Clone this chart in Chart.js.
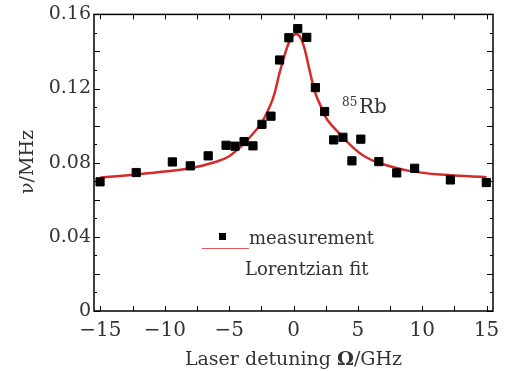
<!DOCTYPE html>
<html>
<head>
<meta charset="utf-8">
<script src="https://cdn.jsdelivr.net/npm/chart.js@4"></script>
<style>
  html, body { margin: 0; padding: 0; background: #fff; }
  #wrap { width: 512px; height: 371px; }
</style>
</head>
<body>
<div id="wrap"><canvas id="rbChart"></canvas></div>
<script>
// measured points (detuning in GHz, width in MHz)
const measDetuning = [-15.03, -12.22, -9.41, -8.02, -6.63, -5.24, -4.54, -3.84, -3.15, -2.45, -1.75, -1.08, -0.36,
  0.33, 1.03, 1.70, 2.42, 3.12, 3.84, 4.54, 5.23, 6.63, 8.02, 9.41, 12.19, 14.98];
const measWidth = [0.0697, 0.0747, 0.0804, 0.0783, 0.0837, 0.0894, 0.0889, 0.0914, 0.0891, 0.1007, 0.1051, 0.1354, 0.1474,
  0.1523, 0.1476, 0.1205, 0.1076, 0.0923, 0.0937, 0.0810, 0.0927, 0.0806, 0.0745, 0.0770, 0.0707, 0.0693];

// fitted curve
const fitDetuning = [-15.0, -12.0, -10.0, -8.0, -6.0, -5.0, -4.0, -3.0, -2.4, -1.6, -1.1, -0.6, -0.2, 0.25,
  0.7, 1.25, 1.65, 2.15, 2.65, 3.7, 4.7, 5.5, 6.6, 9.0, 12.0, 15.0];
const fitWidth = [0.0720, 0.0738, 0.0752, 0.0770, 0.0805, 0.0835, 0.0893, 0.0968, 0.1025, 0.1146, 0.1280, 0.1400, 0.1470, 0.1494,
  0.1450, 0.1298, 0.1185, 0.1100, 0.1029, 0.0948, 0.0877, 0.0835, 0.0800, 0.0756, 0.0733, 0.0722];

const xTickLabels = [-15, -10, -5, 0, 5, 10, 15];
const yTickLabels = [0, 0.04, 0.08, 0.12, 0.16];
const xMinorTicks = [-15, -12.5, -10, -7.5, -5, -2.5, 0, 2.5, 5, 7.5, 10, 12.5, 15];
const yMinorTicks = [0, 0.01, 0.02, 0.03, 0.04, 0.05, 0.06, 0.07, 0.08, 0.09, 0.10, 0.11, 0.12, 0.13, 0.14, 0.15, 0.16];

const serif = "'DejaVu Serif', serif";
const textColor = "#333";
const fitColor = "#d42a2a";

// frame, inward ticks, legend and labels
const decorations = {
  id: "decorations",
  afterDraw(chart) {
    const ctx = chart.ctx;
    const area = chart.chartArea;
    const xs = chart.scales.x;
    const ys = chart.scales.y;
    ctx.save();

    ctx.strokeStyle = "#000";
    ctx.lineWidth = 1.5;
    ctx.strokeRect(area.left, area.top, area.right - area.left, area.bottom - area.top);

    ctx.lineWidth = 1;
    ctx.beginPath();
    xMinorTicks.forEach((v) => {
      const px = Math.round(xs.getPixelForValue(v)) + 0.5;
      ctx.moveTo(px, area.bottom);
      ctx.lineTo(px, area.bottom - 5);
      ctx.moveTo(px, area.top);
      ctx.lineTo(px, area.top + 5);
    });
    yMinorTicks.forEach((v, i) => {
      const py = Math.round(ys.getPixelForValue(v)) + 0.5;
      const len = i % 2 === 0 ? 6 : 3;
      ctx.moveTo(area.left, py);
      ctx.lineTo(area.left + len, py);
      ctx.moveTo(area.right, py);
      ctx.lineTo(area.right - len, py);
    });
    ctx.stroke();

    // legend
    const ds = chart.data.datasets;
    ctx.fillStyle = "#000";
    ctx.fillRect(219, 233, 7, 7);
    ctx.strokeStyle = "#e05a5a";
    ctx.lineWidth = 1;
    ctx.beginPath();
    ctx.moveTo(202, 248.5);
    ctx.lineTo(249, 248.5);
    ctx.stroke();
    ctx.fillStyle = textColor;
    ctx.font = "18px " + serif;
    ctx.textAlign = "left";
    ctx.textBaseline = "alphabetic";
    ctx.fillText(ds[0].label, 249, 244);
    ctx.fillText(ds[1].label, 245, 275);

    // isotope label
    ctx.font = "12px " + serif;
    ctx.fillText("85", 342, 106);
    ctx.font = "20px " + serif;
    ctx.fillText("Rb", 359, 113);

    // x title with bold Omega
    const parts = [["Laser detuning ", "normal"], ["Ω", "bold"], ["/GHz", "normal"]];
    let total = 0;
    parts.forEach((p) => {
      ctx.font = p[1] + " 19px " + serif;
      total += ctx.measureText(p[0]).width;
    });
    let x0 = (area.left + area.right) / 2 - total / 2;
    parts.forEach((p) => {
      ctx.font = p[1] + " 19px " + serif;
      ctx.fillText(p[0], x0, 365);
      x0 += ctx.measureText(p[0]).width;
    });

    // y title
    ctx.translate(33, 162);
    ctx.rotate(-Math.PI / 2);
    ctx.font = "19px " + serif;
    ctx.textAlign = "center";
    ctx.fillText("ν/MHz", 0, 0);

    ctx.restore();
  },
};

const ctxEl = document.getElementById("rbChart");
new Chart(ctxEl, {
  type: "scatter",
  data: {
    datasets: [
      {
        label: "measurement",
        data: measDetuning.map((x, i) => ({ x: x, y: measWidth[i] })),
        pointStyle: "rect",
        pointRadius: 5.8,
        backgroundColor: "#000",
        borderColor: "#000",
        borderWidth: 1,
        showLine: false,
      },
      {
        label: "Lorentzian fit",
        data: fitDetuning.map((x, i) => ({ x: x, y: fitWidth[i] })),
        showLine: true,
        borderColor: fitColor,
        borderWidth: 2.5,
        pointRadius: 0,
        tension: 0.4,
      },
    ],
  },
  options: {
    responsive: true,
    maintainAspectRatio: false,
    animation: false,
    layout: { padding: { left: 0, right: 19, top: 14, bottom: 0 } },
    plugins: {
      legend: { display: false },
      tooltip: { enabled: false },
    },
    scales: {
      x: {
        type: "linear",
        min: -15.5,
        max: 15.5,
        afterBuildTicks: (s) => { s.ticks = xTickLabels.map((v) => ({ value: v })); },
        afterFit: (s) => { s.height = 60; },
        grid: { display: false, drawTicks: false },
        border: { display: false },
        ticks: {
          autoSkip: false,
          maxRotation: 0,
          padding: 8,
          color: textColor,
          font: { family: serif, size: 20 },
          callback: (v) => (v < 0 ? "\u2212" + Math.abs(v) : String(v)),
        },
      },
      y: {
        min: 0,
        max: 0.16,
        afterBuildTicks: (s) => { s.ticks = yTickLabels.map((v) => ({ value: v })); },
        afterFit: (s) => { s.width = 94; },
        grid: { display: false, drawTicks: false },
        border: { display: false },
        ticks: {
          padding: 3,
          color: textColor,
          font: { family: serif, size: 19 },
          callback: (v) => (v === 0 ? "0" : v.toFixed(2)),
        },
      },
    },
  },
  plugins: [decorations],
});
</script>
</body>
</html>
